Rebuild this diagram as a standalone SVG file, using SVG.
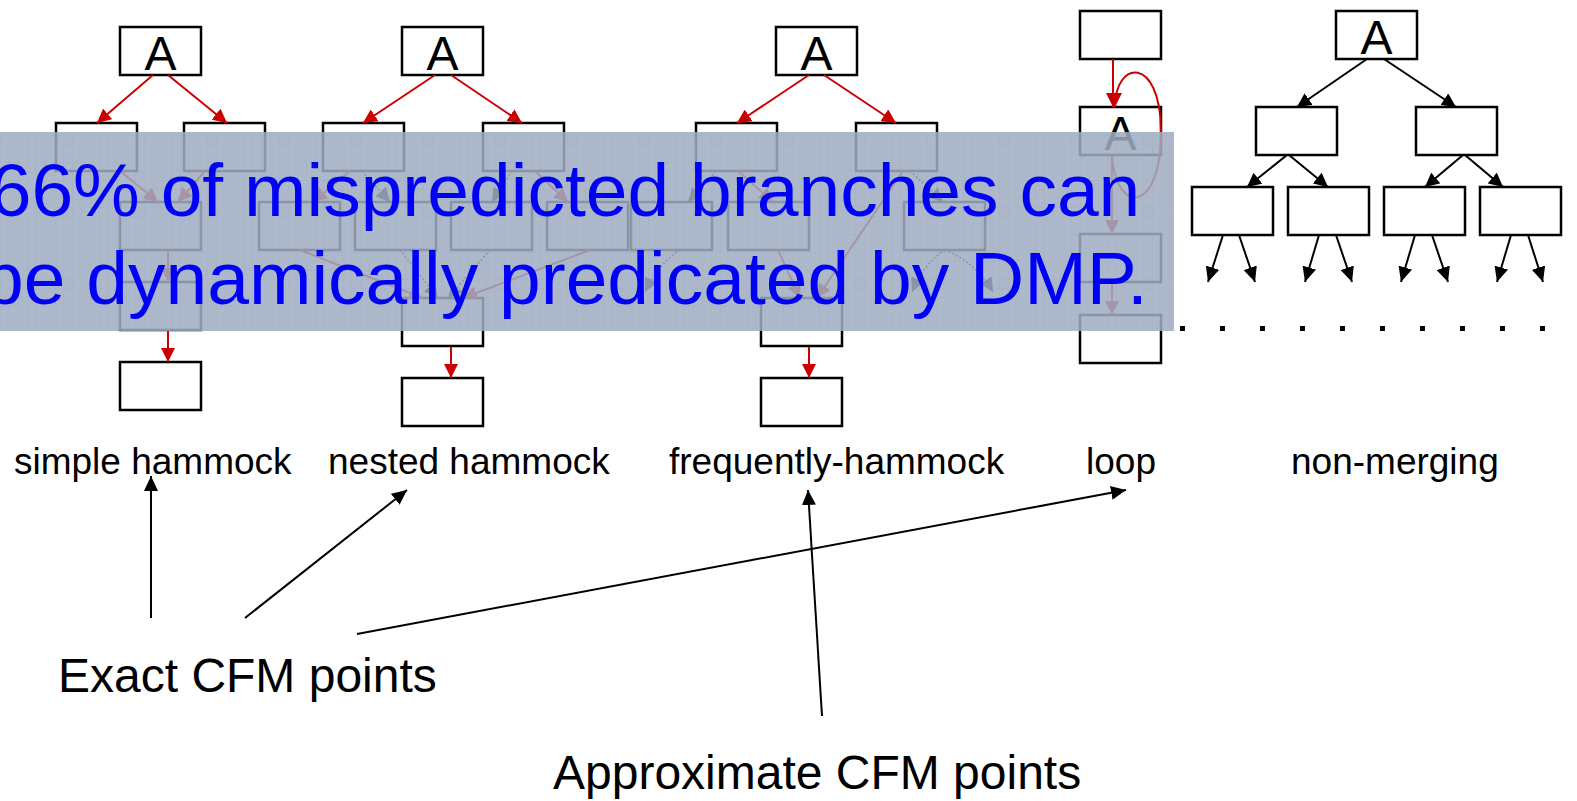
<svg xmlns="http://www.w3.org/2000/svg" width="1577" height="801" viewBox="0 0 1577 801">
<style>
.box{fill:#fff;stroke:#000;stroke-width:2.5}
.red{stroke:#cc0000;stroke-width:2;fill:none}
.blk{stroke:#000;stroke-width:2;fill:none}
.dot{stroke:#000;stroke-width:1.5;stroke-dasharray:2 2;fill:none}
.t{font-family:"Liberation Sans",Arial,Helvetica,sans-serif;fill:#000}
.lbl{font-size:37px}
.big{font-size:48px}
.A{font-size:48px;text-anchor:middle}
.ov{font-family:"Liberation Sans",Arial,Helvetica,sans-serif;font-size:75px;fill:#0000f8;text-anchor:middle}
</style>
<defs>
<marker id="ar" markerUnits="userSpaceOnUse" markerWidth="14" markerHeight="14" refX="14" refY="7" orient="auto"><path d="M0,0 L14,7 L0,14 z" fill="#cc0000"/></marker>
<marker id="ak" markerUnits="userSpaceOnUse" markerWidth="15" markerHeight="14" refX="15" refY="7" orient="auto"><path d="M0,0 L15,7 L0,14 z" fill="#000"/></marker>
<marker id="ad" markerUnits="userSpaceOnUse" markerWidth="14" markerHeight="14" refX="14" refY="7" orient="auto"><path d="M0,0 L14,7 L0,14 z" fill="#000"/></marker>
<pattern id="grid" width="9" height="9" patternUnits="userSpaceOnUse"><path d="M0,0.5 H9 M0.5,0 V9" stroke="#8090a8" stroke-width="1" opacity="0.12"/></pattern>
</defs>
<rect width="1577" height="801" fill="#fff"/>

<!-- simple hammock -->
<g id="s-A"><rect class="box" x="120" y="27" width="81" height="48"/><text class="t A" x="160.5" y="70">A</text></g>
<g id="s-L"><rect class="box" x="56" y="123" width="81" height="48"/></g>
<g id="s-R"><rect class="box" x="184" y="123" width="81" height="48"/></g>
<g id="s-M"><rect class="box" x="120" y="202" width="81" height="48"/></g>
<g id="s-N"><rect class="box" x="120" y="282" width="81" height="48"/></g>
<g id="s-B"><rect class="box" x="120" y="362" width="81" height="48"/></g>

<!-- nested hammock -->
<g id="n-A"><rect class="box" x="402" y="27" width="81" height="48"/><text class="t A" x="442.5" y="70">A</text></g>
<g id="n-L"><rect class="box" x="323" y="123" width="81" height="48"/></g>
<g id="n-R"><rect class="box" x="483" y="123" width="81" height="48"/></g>
<g id="n-1"><rect class="box" x="259" y="202" width="81" height="48"/></g>
<g id="n-2"><rect class="box" x="355" y="202" width="81" height="48"/></g>
<g id="n-3"><rect class="box" x="451" y="202" width="81" height="48"/></g>
<g id="n-4"><rect class="box" x="547" y="202" width="81" height="48"/></g>
<g id="n-M"><rect class="box" x="402" y="298" width="81" height="48"/></g>
<g id="n-B"><rect class="box" x="402" y="378" width="81" height="48"/></g>

<!-- frequently-hammock -->
<g id="f-A"><rect class="box" x="776" y="27" width="81" height="48"/><text class="t A" x="816.5" y="70">A</text></g>
<g id="f-L"><rect class="box" x="696" y="123" width="81" height="48"/></g>
<g id="f-R"><rect class="box" x="856" y="123" width="81" height="48"/></g>
<g id="f-1"><rect class="box" x="631" y="202" width="81" height="48"/></g>
<g id="f-2"><rect class="box" x="728" y="202" width="81" height="48"/></g>
<g id="f-3"><rect class="box" x="904" y="202" width="81" height="48"/></g>
<g id="f-M"><rect class="box" x="761" y="298" width="81" height="48"/></g>
<g id="f-B"><rect class="box" x="761" y="378" width="81" height="48"/></g>

<!-- loop -->
<g id="l-T"><rect class="box" x="1080" y="11" width="81" height="48"/></g>
<g id="l-A"><rect class="box" x="1080" y="107" width="81" height="48"/><text class="t A" x="1120.5" y="150">A</text></g>
<g id="l-3"><rect class="box" x="1080" y="234" width="81" height="48"/></g>
<g id="l-4"><rect class="box" x="1080" y="315" width="81" height="48"/></g>

<!-- non-merging -->
<g id="m-A"><rect class="box" x="1336" y="11" width="81" height="48"/><text class="t A" x="1376.5" y="54">A</text></g>
<g id="m-1"><rect class="box" x="1256" y="107" width="81" height="48"/></g>
<g id="m-2"><rect class="box" x="1416" y="107" width="81" height="48"/></g>
<g id="m-3"><rect class="box" x="1192" y="187" width="81" height="48"/></g>
<g id="m-4"><rect class="box" x="1288" y="187" width="81" height="48"/></g>
<g id="m-5"><rect class="box" x="1384" y="187" width="81" height="48"/></g>
<g id="m-6"><rect class="box" x="1480" y="187" width="81" height="48"/></g>
<g id="m-dots" fill="#000">
<rect x="1180" y="326" width="5" height="5"/><rect x="1220" y="326" width="5" height="5"/><rect x="1260" y="326" width="5" height="5"/><rect x="1300" y="326" width="5" height="5"/><rect x="1340" y="326" width="5" height="5"/><rect x="1380" y="326" width="5" height="5"/><rect x="1420" y="326" width="5" height="5"/><rect x="1460" y="326" width="5" height="5"/><rect x="1500" y="326" width="5" height="5"/><rect x="1540" y="326" width="5" height="5"/>
</g>

<g id="connectors">
<!-- simple -->
<line class="red" x1="153" y1="75" x2="97" y2="123" marker-end="url(#ar)"/>
<line class="red" x1="168" y1="75" x2="227" y2="123" marker-end="url(#ar)"/>
<line class="red" x1="120" y1="171" x2="158" y2="202" marker-end="url(#ar)"/>
<line class="red" x1="205" y1="171" x2="178" y2="202" marker-end="url(#ar)"/>
<line class="red" x1="168" y1="250" x2="168" y2="282" marker-end="url(#ar)"/>
<line class="red" x1="168" y1="330" x2="168" y2="362" marker-end="url(#ar)"/>
<!-- nested -->
<line class="red" x1="435" y1="75" x2="363" y2="123" marker-end="url(#ar)"/>
<line class="red" x1="451" y1="75" x2="522" y2="123" marker-end="url(#ar)"/>
<line class="red" x1="350" y1="171" x2="313" y2="202" marker-end="url(#ar)"/>
<line class="dot" x1="362" y1="171" x2="390" y2="202" marker-end="url(#ad)"/>
<line class="dot" x1="512" y1="171" x2="492" y2="202" marker-end="url(#ad)"/>
<line class="red" x1="535" y1="171" x2="568" y2="202" marker-end="url(#ar)"/>
<line class="red" x1="300" y1="250" x2="423" y2="298" marker-end="url(#ar)"/>
<line class="red" x1="590" y1="250" x2="463" y2="298" marker-end="url(#ar)"/>
<line class="dot" x1="400" y1="250" x2="438" y2="298" marker-end="url(#ad)"/>
<line class="dot" x1="490" y1="250" x2="448" y2="298" marker-end="url(#ad)"/>
<line class="red" x1="451" y1="347" x2="451" y2="378" marker-end="url(#ar)"/>
<!-- frequently -->
<line class="red" x1="809" y1="75" x2="737" y2="123" marker-end="url(#ar)"/>
<line class="red" x1="824" y1="75" x2="896" y2="123" marker-end="url(#ar)"/>
<line class="dot" x1="716" y1="171" x2="688" y2="202" marker-end="url(#ad)"/>
<line class="red" x1="738" y1="171" x2="773" y2="202" marker-end="url(#ar)"/>
<line class="red" x1="903" y1="171" x2="817" y2="298" marker-end="url(#ar)"/>
<line class="dot" x1="910" y1="171" x2="943" y2="202" marker-end="url(#ad)"/>
<path class="dot" d="M680,250 Q660,262 645,292" marker-end="url(#ad)"/>
<line class="red" x1="778" y1="250" x2="800" y2="298" marker-end="url(#ar)"/>
<path class="dot" d="M945,250 Q925,262 912,292" marker-end="url(#ad)"/>
<path class="dot" d="M945,250 Q975,262 993,292" marker-end="url(#ad)"/>
<line class="red" x1="809" y1="347" x2="809" y2="378" marker-end="url(#ar)"/>
<!-- loop -->
<line class="red" x1="1113" y1="59" x2="1113" y2="107" marker-end="url(#ar)"/>
<path class="red" d="M1112,155 C1115,215 1162,215 1161,130 C1160,55 1115,60 1115,107" marker-end="url(#ar)"/>
<line class="red" x1="1112" y1="155" x2="1112" y2="234" marker-end="url(#ar)"/>
<line class="red" x1="1112" y1="283" x2="1112" y2="315" marker-end="url(#ar)"/>
<!-- non-merging -->
<line class="blk" x1="1367" y1="59" x2="1297" y2="107" marker-end="url(#ad)"/>
<line class="blk" x1="1384" y1="59" x2="1456" y2="107" marker-end="url(#ad)"/>
<line class="blk" x1="1287" y1="155" x2="1247" y2="187" marker-end="url(#ad)"/>
<line class="blk" x1="1289" y1="155" x2="1328" y2="187" marker-end="url(#ad)"/>
<line class="blk" x1="1463" y1="155" x2="1425" y2="187" marker-end="url(#ad)"/>
<line class="blk" x1="1465" y1="155" x2="1503" y2="187" marker-end="url(#ad)"/>
<line class="blk" x1="1223" y1="235" x2="1208" y2="282" marker-end="url(#ak)"/>
<line class="blk" x1="1239" y1="235" x2="1255" y2="282" marker-end="url(#ak)"/>
<line class="blk" x1="1319" y1="235" x2="1305" y2="282" marker-end="url(#ak)"/>
<line class="blk" x1="1336" y1="235" x2="1352" y2="282" marker-end="url(#ak)"/>
<line class="blk" x1="1415" y1="235" x2="1401" y2="282" marker-end="url(#ak)"/>
<line class="blk" x1="1432" y1="235" x2="1448" y2="282" marker-end="url(#ak)"/>
<line class="blk" x1="1511" y1="235" x2="1497" y2="282" marker-end="url(#ak)"/>
<line class="blk" x1="1528" y1="235" x2="1543" y2="282" marker-end="url(#ak)"/>
<!-- callouts -->
<line class="blk" x1="151" y1="618" x2="151" y2="476" marker-end="url(#ak)"/>
<line class="blk" x1="245" y1="618" x2="407" y2="490" marker-end="url(#ak)"/>
<line class="blk" x1="357" y1="634" x2="1126" y2="490" marker-end="url(#ak)"/>
<line class="blk" x1="822" y1="716" x2="808" y2="490" marker-end="url(#ak)"/>
</g>

<g id="labels">
<text class="t lbl" x="14" y="474">simple hammock</text>
<text class="t lbl" x="328" y="474">nested hammock</text>
<text class="t lbl" x="669" y="474">frequently-hammock</text>
<text class="t lbl" x="1086" y="474">loop</text>
<text class="t lbl" x="1291" y="474">non-merging</text>
<text class="t big" x="58" y="692">Exact CFM points</text>
<text class="t big" x="553" y="789">Approximate CFM points</text>
</g>

<g id="overlay">
<rect x="0" y="132" width="1174" height="199" fill="rgb(159,173,193)" opacity="0.86"/>
<rect x="0" y="132" width="1174" height="199" fill="url(#grid)"/>
<text class="ov" x="565" y="216">66% of mispredicted branches can</text>
<text class="ov" x="565" y="304">be dynamically predicated by DMP.</text>
</g>
</svg>
